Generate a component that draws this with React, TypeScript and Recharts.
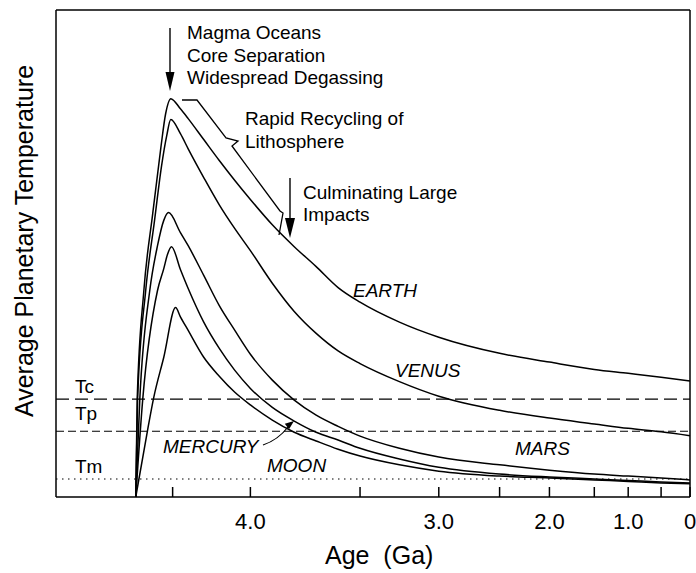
import { LineChart, Line, XAxis, YAxis, ReferenceLine } from 'recharts'

const FONT = '"Liberation Sans", Arial, Helvetica, sans-serif'

// age in Ga, temperature in relative units (0 = bottom of frame, 100 = top)
const earthAge = [4.6, 4.596, 4.578, 4.554, 4.532, 4.519, 4.505, 4.45, 4.4, 4.3, 4.2, 4.1, 4.0, 3.9, 3.8, 3.7, 3.6, 3.5, 3.25, 3.0, 2.5, 2.0, 1.5, 1.0, 0.5, 0]
const earthTemp = [0, 20.1, 42.4, 58.2, 71.7, 78.7, 81.8, 79.7, 77.7, 73.4, 69.1, 65.0, 61.1, 55.9, 51.4, 47.3, 43.0, 40.0, 35.9, 32.8, 29.5, 27.7, 26.2, 25.4, 24.6, 23.8]

const venusAge = [4.6, 4.595, 4.573, 4.549, 4.53, 4.516, 4.505, 4.45, 4.4, 4.3, 4.2, 4.1, 4.0, 3.9, 3.8, 3.7, 3.6, 3.5, 3.25, 3.0, 2.5, 2.0, 1.5, 1.0, 0.5, 0]
const venusTemp = [0, 20.1, 42.4, 56.8, 68.0, 74.2, 77.5, 74.6, 71.5, 65.6, 60.0, 55.1, 50.6, 43.9, 38.1, 33.6, 30.0, 27.4, 23.7, 20.7, 17.8, 16.2, 15.0, 14.1, 13.4, 12.6]

const marsAge = [4.6, 4.589, 4.562, 4.541, 4.524, 4.511, 4.45, 4.4, 4.3, 4.2, 4.1, 4.0, 3.9, 3.8, 3.7, 3.6, 3.5, 3.25, 3.0, 2.5, 2.0, 1.5, 1.0, 0.5, 0]
const marsTemp = [0, 20.1, 42.4, 51.6, 56.8, 58.4, 54.3, 51.6, 45.5, 39.3, 34.2, 29.3, 24.0, 19.9, 16.8, 14.5, 12.5, 10.0, 8.2, 6.6, 5.5, 4.7, 4.3, 3.9, 3.5]

const mercuryAge = [4.6, 4.581, 4.541, 4.524, 4.514, 4.503, 4.45, 4.4, 4.3, 4.2, 4.1, 4.0, 3.9, 3.8, 3.7, 3.6, 3.5, 3.25, 3.0, 2.5, 2.0, 1.5, 1.0, 0.5, 0]
const mercuryTemp = [0, 20.1, 42.4, 46.9, 49.8, 51.4, 46.7, 42.8, 35.9, 30.5, 26.0, 22.3, 18.4, 15.6, 13.3, 11.7, 10.0, 7.8, 6.1, 4.7, 4.1, 3.7, 3.4, 3.1, 2.9]

const moonAge = [4.6, 4.568, 4.551, 4.524, 4.481, 4.45, 4.4, 4.3, 4.2, 4.1, 4.0, 3.9, 3.8, 3.7, 3.6, 3.5, 3.25, 3.0, 2.5, 2.0, 1.5, 1.0, 0.5, 0]
const moonTemp = [0, 13.7, 20.5, 28.7, 38.9, 37.0, 34.2, 28.7, 24.8, 21.5, 18.9, 15.8, 13.3, 11.5, 9.8, 8.4, 6.6, 5.3, 4.3, 3.9, 3.5, 3.2, 2.9, 2.7]

const tickAges = [4.5, 4.0, 3.5, 3.0, 2.5, 2.0, 1.5, 1.0, 0.5, 0]
const tickLabels = ['', '4.0', '', '3.0', '', '2.0', '', '1.0', '', '0']

const levelTc = 20.1
const levelTp = 13.5
const levelTm = 3.7

// the age axis in the figure is schematic (stretched near 4.6 Ga, squeezed toward today),
// so ages are mapped onto axis units piecewise between these anchors
const WARP_AGE = [4.82, 4.6, 4.5, 4.0, 3.5, 3.0, 2.5, 2.0, 1.5, 1.0, 0.5, 0]
const WARP_POS = [0, 80, 117, 195, 305, 384, 445, 495, 540, 574, 607, 636]

function agePos(age: number) {
  for (let i = 0; i < WARP_AGE.length - 1; i++) {
    const a0 = WARP_AGE[i]
    const a1 = WARP_AGE[i + 1]
    if (age <= a0 && age >= a1) {
      return WARP_POS[i] + ((a0 - age) / (a0 - a1)) * (WARP_POS[i + 1] - WARP_POS[i])
    }
  }
  return age > WARP_AGE[0] ? 0 : WARP_POS[WARP_POS.length - 1]
}

const series = (ages: number[], temps: number[]) => ages.map((a, i) => ({ pos: agePos(a), t: temps[i] }))

const planets = [
  { name: 'Earth', data: series(earthAge, earthTemp) },
  { name: 'Venus', data: series(venusAge, venusTemp) },
  { name: 'Mars', data: series(marsAge, marsTemp) },
  { name: 'Mercury', data: series(mercuryAge, mercuryTemp) },
  { name: 'Moon', data: series(moonAge, moonTemp) },
]

const tickPos = tickAges.map(agePos)
const fmtTick = (v: number) => {
  const k = tickPos.findIndex((p) => Math.abs(p - v) < 0.01)
  return k >= 0 ? tickLabels[k] : ''
}

export default function App() {
  return (
    <div style={{ position: 'absolute', left: 0, top: 0, width: 696, height: 573, background: '#fff' }}>
      <LineChart width={696} height={573} margin={{ top: 9, right: 5, bottom: 36, left: 55 }}>
        <XAxis
          type="number"
          dataKey="pos"
          domain={[0, 636]}
          ticks={tickPos}
          interval={0}
          tickFormatter={fmtTick}
          tickSize={-10}
          tickMargin={26}
          height={40}
          stroke="#000"
          strokeWidth={1.5}
          axisLine
          tickLine
          tick={{ fill: '#000', fontSize: 22, fontFamily: FONT }}
        />
        <XAxis
          xAxisId="top"
          orientation="top"
          type="number"
          dataKey="pos"
          domain={[0, 636]}
          ticks={tickPos}
          interval={0}
          tick={false}
          tickSize={-10}
          height={1}
          stroke="#000"
          strokeWidth={1.5}
          axisLine
          tickLine
        />
        <YAxis type="number" domain={[0, 100]} width={1} tick={false} tickLine={false} stroke="#000" strokeWidth={1.5} axisLine />
        <YAxis yAxisId="r" orientation="right" type="number" domain={[0, 100]} width={1} tick={false} tickLine={false} stroke="#000" strokeWidth={1.5} axisLine />

        <ReferenceLine y={levelTc} stroke="#000" strokeWidth={1.2} strokeDasharray="13 6" />
        <ReferenceLine y={levelTp} stroke="#000" strokeWidth={1.2} strokeDasharray="8 4" />
        <ReferenceLine y={levelTm} stroke="#000" strokeWidth={1.2} strokeDasharray="1.5 4.5" />

        {planets.map((p) => (
          <Line
            key={p.name}
            name={p.name}
            data={p.data}
            dataKey="t"
            type="monotone"
            stroke="#000"
            strokeWidth={1.5}
            dot={false}
            activeDot={false}
            isAnimationActive={false}
          />
        ))}
      </LineChart>

      <svg width={696} height={573} style={{ position: 'absolute', left: 0, top: 0, pointerEvents: 'none' }} fontFamily={FONT} fill="#000">
        <text transform="translate(33,241) rotate(-90)" textAnchor="middle" fontSize={25}>Average Planetary Temperature</text>
        <text x={325} y={564} fontSize={25}>{'Age\u00a0\u00a0(Ga)'}</text>

        <text fontSize={19}>
          <tspan x={75} y={393}>Tc</tspan>
          <tspan x={75} y={420}>Tp</tspan>
          <tspan x={75} y={473}>Tm</tspan>
        </text>

        <line x1={170} y1={28} x2={170} y2={74} stroke="#000" strokeWidth={1.4} />
        <polygon points="165.5,72 174.5,72 170,91" />
        <text fontSize={19}>
          <tspan x={187} y={39}>Magma Oceans</tspan>
          <tspan x={187} y={61.5}>Core Separation</tspan>
          <tspan x={187} y={84}>Widespread Degassing</tspan>
        </text>

        <polyline points="182,100 197,100 226,138 238,141 232,146 280,211 283,213 279,235" fill="none" stroke="#000" strokeWidth={1.3} />
        <text fontSize={19}>
          <tspan x={245} y={125}>Rapid Recycling of</tspan>
          <tspan x={245} y={148}>Lithosphere</tspan>
        </text>

        <line x1={290} y1={178} x2={290} y2={220} stroke="#000" strokeWidth={1.4} />
        <polygon points="285,218 295,218 290,238" />
        <text fontSize={19}>
          <tspan x={303} y={199}>Culminating Large</tspan>
          <tspan x={303} y={221}>Impacts</tspan>
        </text>

        <g fontSize={19} fontStyle="italic">
          <text x={353} y={297}>EARTH</text>
          <text x={395} y={377}>VENUS</text>
          <text x={515} y={455}>MARS</text>
          <text x={163} y={453}>MERCURY</text>
          <text x={267} y={472}>MOON</text>
        </g>
        <path d="M263,445 Q278,440 288,427" fill="none" stroke="#000" strokeWidth={1.2} />
        <polygon points="294,421 289,429.3 284.8,423.7" />
      </svg>
    </div>
  )
}
